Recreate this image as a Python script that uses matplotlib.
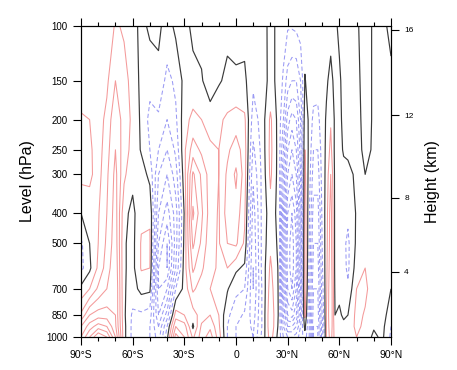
import numpy as np
import matplotlib
matplotlib.use("Agg")
import matplotlib.pyplot as plt
from matplotlib.ticker import NullLocator, FixedLocator

plt.rcParams["font.family"] = ["Liberation Sans", "DejaVu Sans"]

# latitude nodes (deg) and pressure levels (hPa)
lats = [-90, -85, -80, -75, -70, -65, -60, -55, -50, -45, -40, -35, -30, -25,
        -20, -15, -10, -5, 0, 5, 10, 15, 20, 25, 27.5, 30, 32.5, 35, 37.5, 40,
        42.5, 45, 47.5, 50, 52.5, 55, 57.5, 60, 62.5, 65, 70, 75, 80, 85, 90]
levels = [1000, 925, 850, 700, 600, 500, 400, 300, 250, 200, 150, 100]

# field values along each pressure level (one value per latitude node)
u1000 = [5.0, 7.0, 9.0, 8.0, 5.0, 0.3, -1.3, -1.5, -2.0, -3.5, -0.3, 4.5, 3.0, 0.8, 2.5,
         3.5, 1.5, -1.0, -2.0, -2.5, -3.0, -0.8, 1.5, -0.5, -2.0, -3.0, -3.0, -2.5, -1.5,
         -0.5, -2.0, -6.0, -6.0, -2.5, 1.0, 2.5, 0.5, 0.8, 0.5, 0.8, 1.0, 0.5, -0.2, 0.2, -1.2]
u925 = [4.0, 5.5, 6.5, 6.0, 4.2, 0.3, -1.3, -1.5, -2.0, -4.0, -1.0, 3.0, 2.5, -0.2, 2.2,
        2.8, 1.2, -1.0, -2.0, -2.5, -3.2, -1.0, 1.8, -0.3, -3.0, -5.0, -5.0, -4.0, -2.0,
        0.3, -2.0, -6.0, -6.0, -2.5, 1.0, 2.8, 0.3, 0.5, 0.3, 0.5, 1.2, 0.8, 0.1, 0.3, -1.0]
u850 = [2.2, 4.0, 4.5, 4.5, 4.0, 0.2, -1.2, -1.2, -1.5, -5.0, -2.5, 1.5, 1.0, 0.5, 1.5,
        2.0, 1.0, -0.8, -1.5, -2.2, -3.5, -1.0, 1.8, -0.2, -4.0, -7.0, -7.5, -6.0, -3.0,
        1.2, -2.0, -5.5, -5.5, -2.0, 1.0, 3.0, 0.0, 0.2, -0.2, 0.0, 1.3, 0.9, 0.3, 0.4, -0.5]
u700 = [0.3, 1.0, 2.2, 3.0, 4.0, 0.1, -0.4, 0.3, 0.2, -6.0, -5.0, -1.0, 0.3, 2.2, 1.5,
        1.0, 0.8, 0.1, -0.8, -1.0, -4.0, -1.0, 1.5, -0.2, -5.5, -9.0, -10.0, -8.0, -4.0,
        1.8, -1.5, -5.0, -5.0, -1.5, 0.8, 3.0, -0.2, -0.3, -0.5, -0.8, 1.0, 1.2, 0.5, 0.3, 0.0]
u600 = [-1.3, -0.2, 1.2, 2.5, 3.8, 0.1, -0.3, 1.1, 1.0, -6.0, -7.0, -3.0, 0.5, 3.2, 2.2,
        1.2, 0.9, 1.0, 0.2, -0.2, -4.0, -0.8, 1.2, -0.2, -5.5, -9.5, -10.5, -9.0, -4.5,
        1.8, -1.2, -4.5, -4.5, -1.2, 0.7, 2.8, -0.3, -0.5, -0.7, -1.2, 0.5, 1.0, 0.4, 0.2, 0.1]
u500 = [-1.2, 0.0, 1.0, 2.2, 3.6, 0.1, -0.3, 1.1, 1.1, -5.0, -7.0, -3.5, 0.3, 4.2, 2.8,
        1.3, 0.9, 2.0, 2.2, 0.8, -3.8, -0.8, 0.8, -0.3, -5.5, -9.5, -10.5, -9.0, -4.5,
        1.8, -1.0, -4.0, -4.0, -1.0, 0.6, 2.6, -0.3, -0.5, -0.8, -1.2, 0.2, 0.6, 0.3, 0.2, 0.1]
u400 = [0.0, 0.5, 0.9, 2.0, 3.5, 0.3, -0.3, 0.8, 0.9, -4.0, -5.5, -3.5, 0.1, 5.2, 3.2,
        1.5, 0.9, 2.5, 2.6, 1.2, -3.5, -0.8, 0.6, -0.4, -5.0, -9.0, -10.0, -8.5, -4.5,
        1.6, -0.8, -3.5, -3.5, -0.8, 0.5, 2.5, -0.3, -0.4, -0.6, -0.8, 0.1, 0.3, 0.2, 0.2, 0.1]
u300 = [1.3, 1.2, 0.6, 1.8, 3.3, 1.2, 0.3, 0.5, -0.3, -3.0, -4.0, -2.5, 0.6, 4.2, 2.8,
        1.5, 1.0, 2.2, 3.2, 1.5, -2.8, -0.8, 1.2, -0.5, -4.0, -7.0, -8.0, -7.0, -4.0,
        1.3, -0.5, -2.5, -2.5, -0.6, 0.3, 2.0, -0.3, -0.3, -0.3, -0.3, 0.2, 0.0, 0.1, 0.2, 0.1]
u250 = [1.3, 1.2, 0.5, 1.6, 3.0, 1.4, 0.7, -0.1, -1.0, -2.0, -3.0, -1.8, 0.8, 2.5, 1.8,
        1.2, 1.0, 1.8, 2.5, 1.5, -2.2, -0.7, 1.3, -0.5, -3.0, -6.0, -7.0, -6.0, -3.5,
        1.0, -0.3, -2.0, -2.0, -0.5, 0.2, 1.3, -0.3, -0.3, 0.1, 0.2, 0.3, -0.2, 0.1, 0.2, 0.1]
u200 = [1.1, 1.0, 0.5, 1.3, 2.8, 1.5, 0.8, -0.2, -1.3, -1.2, -2.0, -1.2, 0.6, 1.3, 1.0,
        0.6, 0.8, 1.2, 1.5, 1.2, -1.5, -0.6, 1.2, -0.5, -2.0, -4.5, -5.5, -5.0, -3.0,
        0.6, -0.2, -1.3, -1.3, -0.4, 0.1, 0.9, -0.2, -0.2, 0.2, 0.3, 0.3, -0.3, 0.1, 0.2, 0.1]
u150 = [0.6, 0.6, 0.5, 0.8, 2.0, 1.3, 0.7, -0.3, -0.7, -0.3, -1.3, -0.8, 0.3, 0.3, 0.1,
        -0.6, -0.1, 0.2, 0.1, 0.2, -0.8, -0.5, 0.3, -0.3, -1.2, -2.5, -3.0, -3.0, -2.0,
        0.05, -0.3, -0.5, -0.6, -0.3, -0.1, 0.2, -0.2, -0.1, 0.2, 0.3, 0.2, -0.3, 0.1, 0.2, 0.1]
u100 = [0.3, 0.4, 0.3, 0.4, 1.1, 0.9, 0.4, -0.3, 0.2, 0.2, -0.4, 0.2, 0.3, -0.2, -0.3,
        -0.3, -0.3, -0.2, -0.2, -0.3, -0.5, -0.3, 0.2, -0.2, -0.5, -0.9, -0.9, -0.8, -0.6,
        -0.3, -0.3, -0.2, -0.2, -0.2, -0.3, -0.2, -0.1, 0.1, 0.1, 0.2, 0.1, -0.3, 0.1, 0.1, -0.1]

lat_labels = ["90°S", "60°S", "30°S", "0", "30°N", "60°N", "90°N"]
p_labels = [100, 150, 200, 250, 300, 400, 500, 700, 850, 1000]
heights_km = [4, 8, 12, 16]

field = np.array([u1000, u925, u850, u700, u600, u500, u400, u300, u250, u200, u150, u100])


def std_pressure(z_km):
    # US standard atmosphere, hPa
    z = z_km * 1000.0
    if z <= 11000:
        return 1013.25 * (1 - 2.25577e-5 * z) ** 5.25588
    return 226.32 * np.exp(-(z - 11000) / 6341.6)


fig = plt.figure(figsize=(4.57, 3.70), dpi=100)
ax = fig.add_axes([81 / 457, 33 / 370, 310 / 457, 311 / 370])

pos = ax.contour(lats, levels, field, levels=np.arange(1, 13),
                 colors="#f49a9a", linewidths=0.75)
neg = ax.contour(lats, levels, field, levels=np.arange(-12, 0),
                 colors="#9a9af4", linewidths=0.75)
neg.set_linestyle((0, (4, 2.5)))
ax.contour(lats, levels, field, levels=[0], colors="#3a3a3a", linewidths=0.85)

ax.set_yscale("log")
ax.set_ylim(1000, 100)
ax.yaxis.set_major_locator(FixedLocator(p_labels))
ax.yaxis.set_minor_locator(NullLocator())
ax.set_yticklabels([str(p) for p in p_labels])
ax.set_xlim(-90, 90)
ax.set_xticks(np.arange(-90, 91, 30))
ax.set_xticklabels(lat_labels)
ax.set_xticks(np.arange(-90, 91, 10), minor=True)

ax.tick_params(axis="x", which="major", direction="out", length=5.5, width=0.8,
               top=True, labelsize=7.5, pad=4)
ax.tick_params(axis="x", which="minor", direction="out", length=3, width=0.8, top=True)
ax.tick_params(axis="y", which="major", direction="out", length=5.5, width=0.8,
               right=False, labelsize=7, pad=4)
ax.set_ylabel("Level (hPa)", fontsize=11.5, labelpad=8)

ax2 = ax.twinx()
ax2.set_yscale("log")
ax2.set_ylim(1000, 100)
ax2.yaxis.set_major_locator(FixedLocator([std_pressure(h) for h in heights_km]))
ax2.yaxis.set_minor_locator(NullLocator())
ax2.set_yticklabels([str(h) for h in heights_km])
ax2.tick_params(axis="y", direction="out", length=5.5, width=0.8, labelsize=6, pad=4)
ax2.set_ylabel("Height (km)", fontsize=11.5, labelpad=8)

for a in (ax, ax2):
    for s in a.spines.values():
        s.set_linewidth(0.8)

fig.savefig("out.png", dpi=100)
